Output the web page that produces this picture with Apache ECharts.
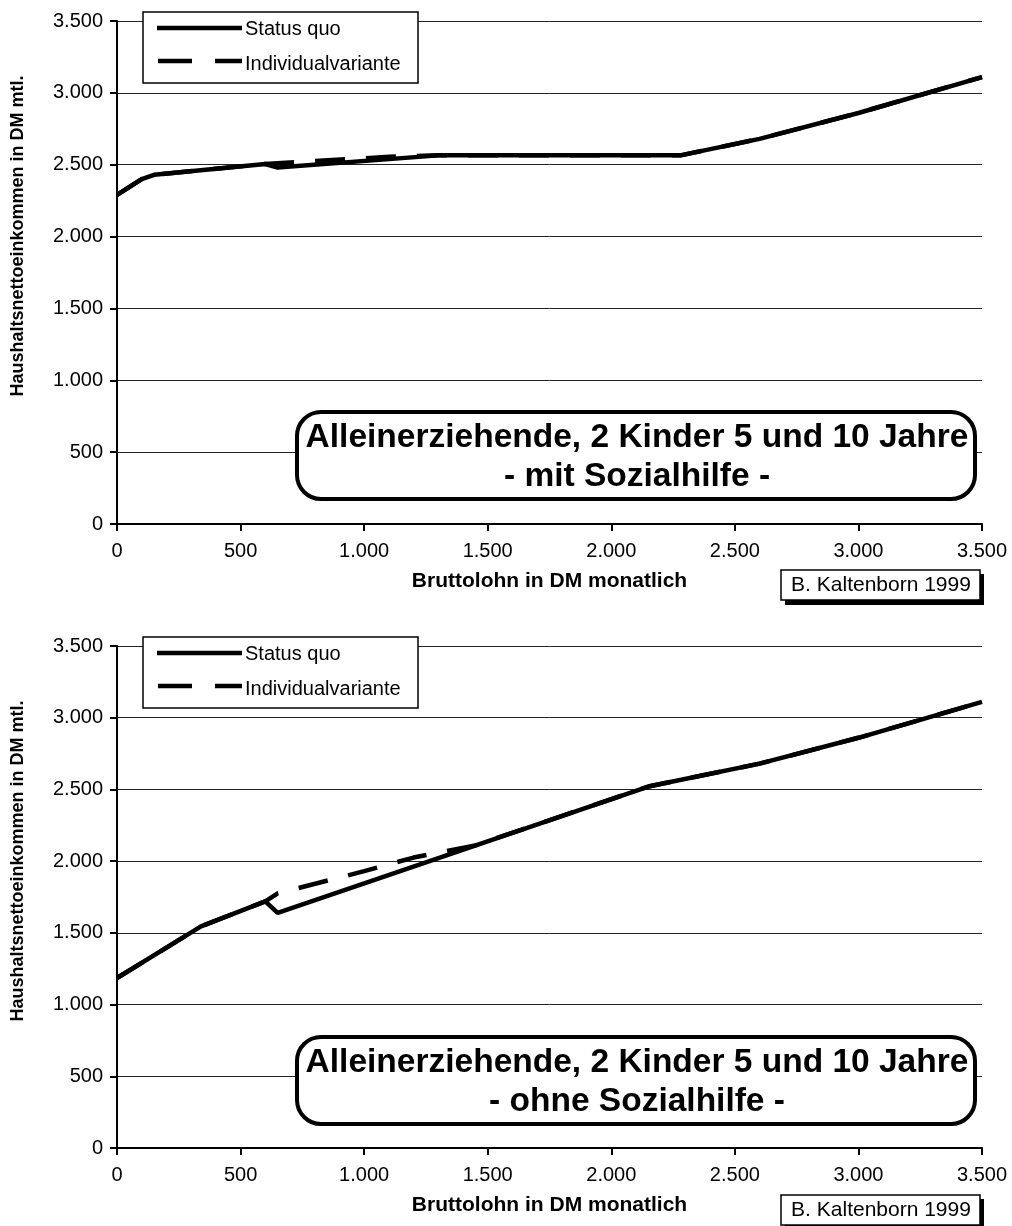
<!DOCTYPE html>
<html>
<head>
<meta charset="utf-8">
<script src="https://cdn.jsdelivr.net/npm/echarts@6/dist/echarts.min.js"></script>
<style>
  html, body { margin: 0; padding: 0; background: #fff; }
  #chart { width: 1012px; height: 1226px; }
</style>
</head>
<body>
<div id="chart"></div>
<script>
// ---- data ----
const axisTicks = [0, 500, 1000, 1500, 2000, 2500, 3000, 3500];
const seriesNames = ['Status quo', 'Individualvariante'];

// Chart 1: mit Sozialhilfe
const topStatusX = [0, 100, 150, 600, 650, 1300, 2280, 2600, 3000, 3500];
const topStatusY = [2290, 2400, 2430, 2505, 2480, 2565, 2565, 2680, 2860, 3110];
const topIndivX  = [0, 100, 150, 600, 650, 1100, 1300, 2280, 2600, 3000, 3500];
const topIndivY  = [2290, 2400, 2430, 2505, 2510, 2555, 2565, 2565, 2680, 2860, 3110];

// Chart 2: ohne Sozialhilfe
const botStatusX = [0, 340, 600, 650, 2150, 2600, 3000, 3500];
const botStatusY = [1185, 1545, 1720, 1640, 2520, 2680, 2860, 3110];
const botIndivX  = [0, 340, 600, 650, 1000, 1200, 1450, 2150, 2600, 3000, 3500];
const botIndivY  = [1185, 1545, 1720, 1775, 1930, 2025, 2110, 2520, 2680, 2860, 3110];

const titleLine1 = 'Alleinerziehende, 2 Kinder 5 und 10 Jahre';
const titleLine2 = ['- mit Sozialhilfe -', '- ohne Sozialhilfe -'];
const xName = 'Bruttolohn in DM monatlich';
const yName = 'Haushaltsnettoeinkommen in DM mtl.';
const credit = 'B. Kaltenborn 1999';

// ---- helpers ----
const FONT = '"Liberation Sans", Arial, Helvetica, sans-serif';
const pairs = (xs, ys) => xs.map((x, i) => [x, ys[i]]);
const fmt = v => String(v).replace(/\B(?=(\d{3})+(?!\d))/g, '.');
const DASH = [30, 21];
const LW = 4.5;

const gridTops = [21, 646];
const gridH = [503, 502];

function makeX(i) {
  return {
    gridIndex: i, type: 'value',
    min: axisTicks[0], max: axisTicks[axisTicks.length - 1],
    interval: axisTicks[1] - axisTicks[0],
    axisLine: { show: true, onZero: false, lineStyle: { color: '#000', width: 2 } },
    axisTick: { show: true, length: 7, lineStyle: { color: '#000', width: 2 } },
    axisLabel: { fontSize: 20, color: '#000', fontFamily: FONT, margin: 17, formatter: fmt },
    splitLine: { show: false },
    name: xName, nameLocation: 'middle', nameGap: 47,
    nameTextStyle: { fontSize: 21, fontWeight: 'bold', color: '#000', fontFamily: FONT }
  };
}
function makeY(i) {
  return {
    gridIndex: i, type: 'value',
    min: axisTicks[0], max: axisTicks[axisTicks.length - 1],
    interval: axisTicks[1] - axisTicks[0],
    axisLine: { show: true, lineStyle: { color: '#000', width: 2 } },
    axisTick: { show: true, length: 7, lineStyle: { color: '#000', width: 2 } },
    axisLabel: { fontSize: 20, color: '#000', fontFamily: FONT, margin: 14, formatter: fmt },
    splitLine: { show: true, lineStyle: { color: '#222', width: 1 } }
  };
}
function lineSeries(name, i, data, dashed) {
  return {
    name: name, type: 'line', xAxisIndex: i, yAxisIndex: i,
    data: data, showSymbol: false, symbol: 'none', animation: false,
    color: '#000',
    z: dashed ? 2 : 3,
    lineStyle: { color: '#000', width: LW, type: dashed ? DASH : 'solid', join: 'bevel' }
  };
}
function graphicsFor(i) {
  const off = gridTops[i] - gridTops[0];
  return [
    // legend frame + entries
    { type: 'rect', z: 4, shape: { x: 143, y: 12 + off, width: 275, height: 71 },
      style: { fill: '#fff', stroke: '#000', lineWidth: 1.5 } },
    { type: 'line', z: 5, shape: { x1: 157, y1: 28 + off, x2: 242, y2: 28 + off },
      style: { stroke: '#000', lineWidth: LW } },
    { type: 'line', z: 5, shape: { x1: 158, y1: 61 + off, x2: 242, y2: 61 + off },
      style: { stroke: '#000', lineWidth: LW, lineDash: [34, 23] } },
    { type: 'text', z: 5, x: 245, y: 29 + off,
      style: { text: seriesNames[0], align: 'left', verticalAlign: 'middle',
               font: '20px ' + FONT, fill: '#000' } },
    { type: 'text', z: 5, x: 245, y: 64 + off,
      style: { text: seriesNames[1], align: 'left', verticalAlign: 'middle',
               font: '20px ' + FONT, fill: '#000' } },
    // title box
    { type: 'rect', z: 10, shape: { x: 297, y: 412 + off, width: 678, height: 87, r: 24 },
      style: { fill: '#fff', stroke: '#000', lineWidth: 4 } },
    { type: 'text', z: 11, x: 637, y: 438 + off,
      style: { text: titleLine1, align: 'center', verticalAlign: 'middle',
               font: 'bold 33.5px ' + FONT, fill: '#000' } },
    { type: 'text', z: 11, x: 637, y: 477 + off,
      style: { text: titleLine2[i], align: 'center', verticalAlign: 'middle',
               font: 'bold 33.5px ' + FONT, fill: '#000' } },
    // credit box with shadow
    { type: 'rect', z: 10, shape: { x: 785, y: 574 + off, width: 199, height: 31 },
      style: { fill: '#000' } },
    { type: 'rect', z: 11, shape: { x: 781, y: 570 + off, width: 199, height: 30 },
      style: { fill: '#fff', stroke: '#000', lineWidth: 1.5 } },
    { type: 'text', z: 12, x: 881, y: 585 + off,
      style: { text: credit, align: 'center', verticalAlign: 'middle',
               font: '21px ' + FONT, fill: '#000' } },
    // y axis name
    { type: 'text', z: 11, x: 18, y: 236 + off, rotation: Math.PI / 2,
      style: { text: yName, align: 'center', verticalAlign: 'middle',
               font: 'bold 18px ' + FONT, fill: '#000' } }
  ];
}

const chart = echarts.init(document.getElementById('chart'), null, { renderer: 'canvas' });
chart.setOption({
  animation: false,
  backgroundColor: '#fff',
  grid: [
    { left: 117, right: 30, top: gridTops[0], height: gridH[0] },
    { left: 117, right: 30, top: gridTops[1], height: gridH[1] }
  ],
  xAxis: [makeX(0), makeX(1)],
  yAxis: [makeY(0), makeY(1)],
  series: [
    lineSeries(seriesNames[1], 0, pairs(topIndivX, topIndivY), true),
    lineSeries(seriesNames[0], 0, pairs(topStatusX, topStatusY), false),
    lineSeries(seriesNames[1], 1, pairs(botIndivX, botIndivY), true),
    lineSeries(seriesNames[0], 1, pairs(botStatusX, botStatusY), false)
  ],
  graphic: graphicsFor(0).concat(graphicsFor(1))
});
</script>
</body>
</html>
